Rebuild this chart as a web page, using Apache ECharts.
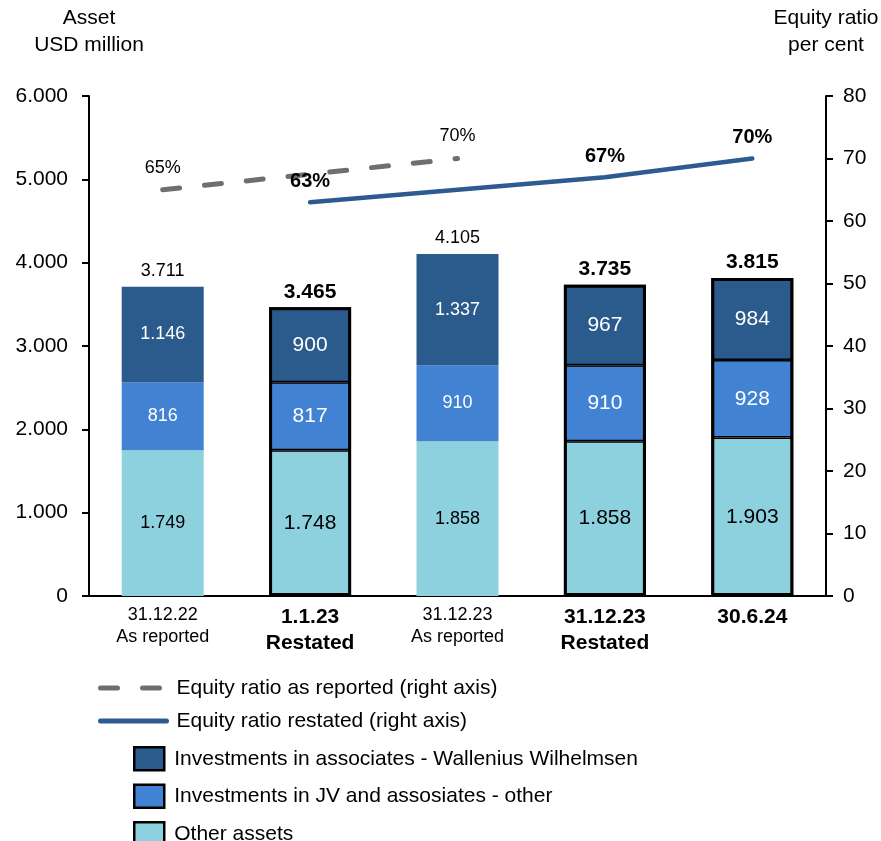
<!DOCTYPE html>
<html>
<head>
<meta charset="utf-8">
<script src="https://cdn.jsdelivr.net/npm/echarts@6/dist/echarts.min.js"></script>
<style>
  html, body { margin: 0; padding: 0; background: #fff; }
  #chart { width: 881px; height: 841px; }
</style>
</head>
<body>
<div id="chart"></div>
<script>
// Period labels (date + basis) and which periods are restated figures
const categories = ['31.12.22\nAs reported', '1.1.23\nRestated', '31.12.23\nAs reported', '31.12.23\nRestated', '30.6.24'];
const restated = [false, true, false, true, true];

// Assets, USD million
const otherAssets = [1749, 1748, 1858, 1858, 1903];
const jvOther = [816, 817, 910, 910, 928];
const wallenius = [1146, 900, 1337, 967, 984];

// Equity ratio, per cent
const equityReported = [65, '-', 70, '-', '-'];
const equityRestated = ['-', 63, '-', 67, 70];

// Axis ranges
const assetAxis = { min: 0, max: 6000, interval: 1000 };
const ratioAxis = { min: 0, max: 80, interval: 10 };

const FONT = '"Liberation Sans", Arial, Helvetica, sans-serif';
const COLORS = { other: '#8dd1de', jv: '#4282d3', ww: '#2b5a8c', reported: '#6f6f6f', restatedLine: '#2d5b8f' };

const fmt = v => String(v).replace(/\B(?=(\d{3})+(?!\d))/g, '.');
const totals = otherAssets.map((v, i) => v + jvOther[i] + wallenius[i]);

function barSeries(name, values, color, labelColor) {
  return {
    name: name,
    type: 'bar',
    stack: 'assets',
    barWidth: 82,
    barGap: '-100%',
    itemStyle: { color: color },
    label: {
      show: true, position: 'inside', color: labelColor, fontFamily: FONT,
      formatter: p => fmt(p.value)
    },
    emphasis: { disabled: true },
    data: values.map((v, i) => ({
      value: v,
      itemStyle: restated[i] ? { borderColor: '#000', borderWidth: 1.5 } : { borderWidth: 0 },
      label: { fontSize: restated[i] ? 21 : 18 }
    }))
  };
}

const legendText = { fontFamily: FONT, fontSize: 21, color: '#000', lineHeight: 24, padding: [0, 0, 0, 5] };

const chart = echarts.init(document.getElementById('chart'), null, { renderer: 'canvas' });

chart.setOption({
  animation: false,
  backgroundColor: '#fff',
  textStyle: { fontFamily: FONT, color: '#000' },
  grid: { left: 89, right: 55, top: 96, bottom: 245, containLabel: false, outerBoundsMode: 'none' },
  legend: [
    {
      orient: 'vertical', left: 98, top: 676, height: 200, padding: 0,
      itemWidth: 66, itemHeight: 20, itemGap: 9,
      data: ['Equity ratio as reported (right axis)', 'Equity ratio restated (right axis)'],
      itemStyle: { opacity: 0 },
      lineStyle: { width: 5, cap: 'round' },
      textStyle: legendText,
      selectedMode: false
    },
    {
      orient: 'vertical', left: 133, top: 746, height: 200, padding: 0,
      itemWidth: 30, itemHeight: 23, itemGap: 12, icon: 'rect',
      data: ['Investments in associates - Wallenius Wilhelmsen', 'Investments in JV and assosiates - other', 'Other assets'],
      itemStyle: { borderColor: '#000', borderWidth: 2.5 },
      textStyle: legendText,
      selectedMode: false
    }
  ],
  xAxis: {
    type: 'category',
    data: categories,
    axisLine: { lineStyle: { color: '#000', width: 2 } },
    axisTick: { show: false },
    axisLabel: {
      interval: 0, margin: 8,
      formatter: (value, index) => {
        const tag = restated[index] ? 'b' : 'n';
        return value.split('\n').map(l => '{' + tag + '|' + l + '}').join('\n');
      },
      rich: {
        n: { fontFamily: FONT, fontSize: 18, color: '#000', lineHeight: 22 },
        b: { fontFamily: FONT, fontSize: 21, fontWeight: 'bold', color: '#000', lineHeight: 26 }
      }
    }
  },
  yAxis: [
    {
      type: 'value', min: assetAxis.min, max: assetAxis.max, interval: assetAxis.interval,
      name: 'Asset\nUSD million', nameLocation: 'end', nameGap: 37,
      nameTextStyle: { fontFamily: FONT, fontSize: 21, color: '#000', align: 'center', lineHeight: 27 },
      axisLine: { show: true, lineStyle: { color: '#000', width: 2 } },
      axisTick: { show: true, length: 7, lineStyle: { color: '#000', width: 2 } },
      splitLine: { show: false },
      axisLabel: { margin: 21, fontFamily: FONT, fontSize: 21, color: '#000', formatter: v => fmt(v) }
    },
    {
      type: 'value', position: 'right', min: ratioAxis.min, max: ratioAxis.max, interval: ratioAxis.interval,
      name: 'Equity ratio\nper cent', nameLocation: 'end', nameGap: 37,
      nameTextStyle: { fontFamily: FONT, fontSize: 21, color: '#000', align: 'center', lineHeight: 27 },
      axisLine: { show: true, lineStyle: { color: '#000', width: 2 } },
      axisTick: { show: true, length: 7, lineStyle: { color: '#000', width: 2 } },
      splitLine: { show: false },
      axisLabel: { margin: 17, fontFamily: FONT, fontSize: 21, color: '#000' }
    }
  ],
  series: [
    barSeries('Other assets', otherAssets, COLORS.other, '#000'),
    barSeries('Investments in JV and assosiates - other', jvOther, COLORS.jv, '#fff'),
    barSeries('Investments in associates - Wallenius Wilhelmsen', wallenius, COLORS.ww, '#fff'),
    {
      // unfilled total bar: outlines restated stacks and carries the total label
      name: 'Total', type: 'bar', barWidth: 82, barGap: '-100%', silent: true, z: 3,
      itemStyle: { color: 'rgba(0,0,0,0)' },
      label: { show: true, position: 'top', color: '#000', fontFamily: FONT, formatter: p => fmt(p.value) },
      data: totals.map((t, i) => ({
        value: t,
        itemStyle: restated[i] ? { borderColor: '#000', borderWidth: 3 } : { borderWidth: 0 },
        label: restated[i] ? { fontSize: 21, fontWeight: 'bold', distance: 5 } : { fontSize: 18, distance: 7 }
      }))
    },
    {
      name: 'Equity ratio as reported (right axis)', type: 'line', yAxisIndex: 1, z: 5,
      data: equityReported, connectNulls: true,
      symbol: 'circle', symbolSize: 0,
      itemStyle: { color: COLORS.reported },
      lineStyle: { color: COLORS.reported, width: 5, type: [17, 25], cap: 'round' },
      label: { show: true, position: 'top', distance: 13, fontFamily: FONT, fontSize: 18, color: '#000', formatter: '{c}%' },
      emphasis: { disabled: true }
    },
    {
      name: 'Equity ratio restated (right axis)', type: 'line', yAxisIndex: 1, z: 5,
      data: equityRestated, connectNulls: true,
      symbol: 'circle', symbolSize: 0,
      itemStyle: { color: COLORS.restatedLine },
      lineStyle: { color: COLORS.restatedLine, width: 4.5, cap: 'round' },
      label: { show: true, position: 'top', distance: 11, fontFamily: FONT, fontSize: 20, fontWeight: 'bold', color: '#000', formatter: '{c}%' },
      emphasis: { disabled: true }
    }
  ]
});
</script>
</body>
</html>
